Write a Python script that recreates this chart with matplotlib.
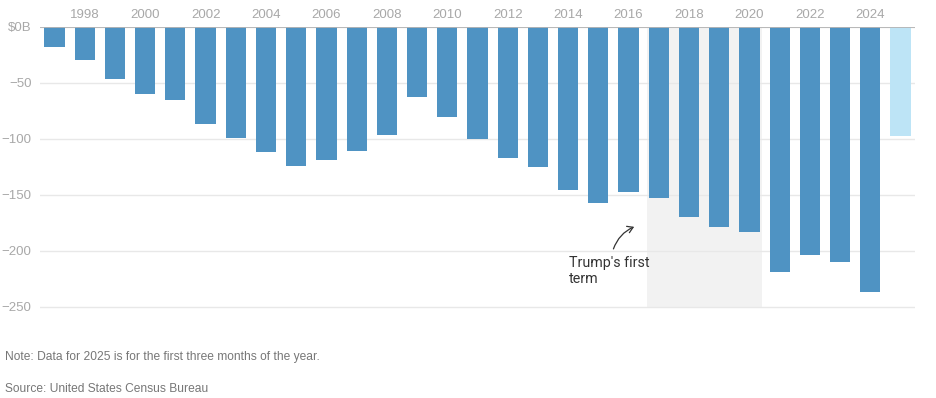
import matplotlib.pyplot as plt
from matplotlib.patches import FancyArrowPatch, Rectangle

# US goods trade balance, billions of dollars
years = list(range(1997, 2026))
balance = [-17.5, -29.5, -46.4, -59.8, -65.2, -86.6, -99.1, -111.6, -124.5, -119.0,
           -110.7, -96.4, -62.5, -80.4, -100.0, -116.7, -125.4, -145.2, -156.8, -147.0,
           -152.4, -169.3, -178.3, -182.7, -218.5, -203.3, -209.5, -236.3, -97.0]
partial_year = 2025
term_start, term_end = 2016.62, 2020.43
y_ticks = [0, -50, -100, -150, -200, -250]
y_labels = ["$0B", "\u221250", "\u2212100", "\u2212150", "\u2212200", "\u2212250"]
x_ticks = list(range(1998, 2025, 2))

plt.rcParams["font.family"] = ["Liberation Sans", "DejaVu Sans"]

fig = plt.figure(figsize=(9.36, 3.98), dpi=100)
ax = fig.add_axes([40 / 936, 1 - 310 / 398, 875 / 936, 283 / 398])

colors = ["#bde4f6" if y == partial_year else "#4f93c3" for y in years]
ax.bar(years, balance, width=0.67, color=colors, zorder=2)

# shaded first-term band, from zero down to the last gridline
ax.add_patch(Rectangle((term_start, y_ticks[-1]), term_end - term_start, -y_ticks[-1],
                       color="#f2f2f2", lw=0, zorder=0))

ax.set_xlim(1996.52, 2025.48)
ax.set_ylim(-252.7, 0)

ax.set_yticks(y_ticks)
ax.set_yticklabels(y_labels)
ax.yaxis.grid(True, color="#e8e8e8", lw=1, zorder=1)
ax.set_axisbelow(True)
ax.axhline(0, color="#b5b5b5", lw=1.3, zorder=3)

ax.xaxis.tick_top()
ax.set_xticks(x_ticks)
ax.set_xticklabels([str(y) for y in x_ticks])
ax.tick_params(axis="x", length=0, pad=4, labelsize=9.5, colors="#a8a8a8")
ax.tick_params(axis="y", length=0, pad=6, labelsize=9.5, colors="#a8a8a8")

for s in ax.spines.values():
    s.set_visible(False)

# annotation
ax.text(2014.04, -204.5, "Trump's first\nterm", fontsize=10.3, color="#333333",
        family=["Roboto", "DejaVu Sans"], va="top", ha="left", linespacing=1.2)
arrow = FancyArrowPatch((2015.47, -200.5), (2016.27, -177.5),
                        connectionstyle="arc3,rad=-0.25", arrowstyle="->,head_length=4,head_width=2.5",
                        color="#333333", lw=0.9, mutation_scale=1)
ax.add_patch(arrow)

fig.text(5 / 936, 1 - 357 / 398, "Note: Data for 2025 is for the first three months of the year.",
         fontsize=8.65, color="#777777", va="center", ha="left")
fig.text(5 / 936, 1 - 389 / 398, "Source: United States Census Bureau",
         fontsize=8.65, color="#777777", va="center", ha="left")

fig.savefig("out.png", dpi=100)
plt.close()
